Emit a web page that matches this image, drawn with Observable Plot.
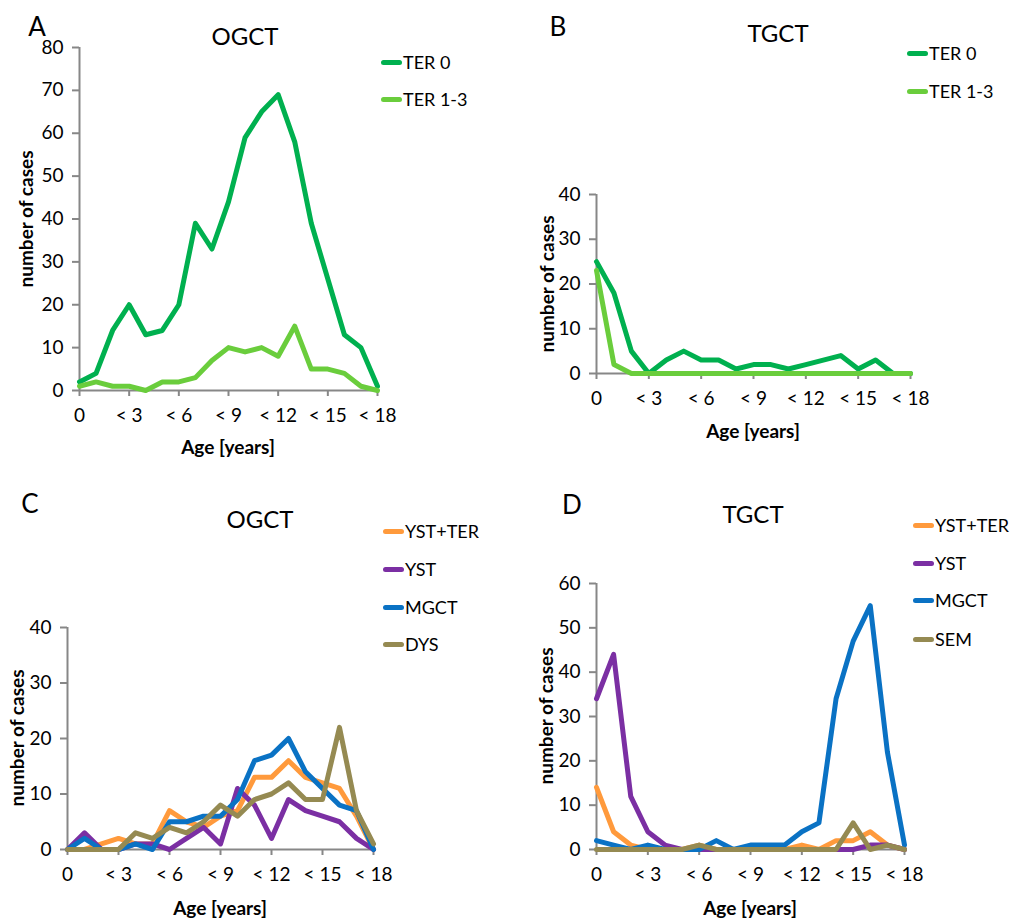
<!DOCTYPE html>
<html>
<head>
<meta charset="utf-8">
<script src="https://cdn.jsdelivr.net/npm/d3@7"></script>
<script src="https://cdn.jsdelivr.net/npm/@observablehq/plot@0.6"></script>
<style>
  html, body { margin: 0; padding: 0; background: #fff; }
  #page { position: relative; width: 1010px; height: 918px; overflow: hidden; font-family: Lato, "Open Sans", sans-serif; color: #000; }
  .abs { position: absolute; white-space: nowrap; line-height: 1; }
  .c { transform: translate(-50%, -50%); }
  .letter { font-size: 26px; }
  .title { font-size: 24px; }
  .axlab { font-size: 19px; font-weight: bold; }
  .ylab { font-size: 19px; font-weight: bold; transform: translate(-50%, -50%) rotate(-90deg); }
  .leg { font-size: 18px; transform: translateY(-50%); display: flex; align-items: center; }
  .sw { display: inline-block; width: 21px; height: 5px; border-radius: 2.5px; margin-right: 1px; }
  svg { overflow: visible; }
</style>
</head>
<body>
<div id="page"></div>
<script>
// ---- data ----
const ages = [0, 1, 2, 3, 4, 5, 6, 7, 8, 9, 10, 11, 12, 13, 14, 15, 16, 17, 18];
const xTickValues = [0, 3, 6, 9, 12, 15, 18];
const xTickLabels = ["0", "< 3", "< 6", "< 9", "< 12", "< 15", "< 18"];

// A: OGCT teratoma
const ogctTer0  = [2, 4, 14, 20, 13, 14, 20, 39, 33, 44, 59, 65, 69, 58, 39, 26, 13, 10, 1];
const ogctTer13 = [1, 2, 1, 1, 0, 2, 2, 3, 7, 10, 9, 10, 8, 15, 5, 5, 4, 1, 0];
// B: TGCT teratoma
const tgctTer0  = [25, 18, 5, 0, 3, 5, 3, 3, 1, 2, 2, 1, 2, 3, 4, 1, 3, 0, 0];
const tgctTer13 = [23, 2, 0, 0, 0, 0, 0, 0, 0, 0, 0, 0, 0, 0, 0, 0, 0, 0, 0];
// C: OGCT malignant
const ogctYstTer = [0, 0, 1, 2, 1, 1, 7, 5, 4, 6, 7, 13, 13, 16, 13, 12, 11, 6, 0];
const ogctYst    = [0, 3, 0, 0, 1, 1, 0, 2, 4, 1, 11, 8, 2, 9, 7, 6, 5, 2, 0];
const ogctMgct   = [0, 2, 0, 0, 1, 0, 5, 5, 6, 6, 9, 16, 17, 20, 14, 11, 8, 7, 0];
const ogctDys    = [0, 0, 0, 0, 3, 2, 4, 3, 5, 8, 6, 9, 10, 12, 9, 9, 22, 7, 1];
// D: TGCT malignant
const tgctYstTer = [14, 4, 1, 0, 0, 0, 1, 0, 0, 0, 0, 0, 1, 0, 2, 2, 4, 1, 0];
const tgctYst    = [34, 44, 12, 4, 1, 0, 0, 0, 0, 0, 0, 0, 0, 0, 0, 0, 1, 1, 0];
const tgctMgct   = [2, 1, 0, 1, 0, 0, 0, 2, 0, 1, 1, 1, 4, 6, 34, 47, 55, 22, 1];
const tgctSem    = [0, 0, 0, 0, 0, 0, 1, 0, 0, 0, 0, 0, 0, 0, 0, 6, 0, 1, 0];

const terNames = ["TER 0", "TER 1-3"];
const terColors = ["#00b04f", "#6acd3c"];
const ogctNames = ["YST+TER", "YST", "MGCT", "DYS"];
const tgctNames = ["YST+TER", "YST", "MGCT", "SEM"];
const malColors = ["#ff9a3c", "#7b2fa3", "#0a72c4", "#958a52"];

const yTicksA = [0, 10, 20, 30, 40, 50, 60, 70, 80];
const yTicksB = [0, 10, 20, 30, 40];
const yTicksC = [0, 10, 20, 30, 40];
const yTicksD = [0, 10, 20, 30, 40, 50, 60];

// ---- drawing ----
const page = document.getElementById("page");
const axisGrey = "#878787";

function addText(cls, text, x, y) {
  const d = document.createElement("div");
  d.className = "abs " + cls;
  d.style.left = x + "px";
  d.style.top = y + "px";
  d.textContent = text;
  page.appendChild(d);
  return d;
}

function panel(cfg) {
  const {L, T, W, H, x0, x1, yTop, yBottom, yTicks, series, names, colors} = cfg;
  const rows = [];
  series.forEach((vals, s) => vals.forEach((v, i) => rows.push({age: ages[i], value: v, series: names[s]})));
  const marks = [
    Plot.axisX({ticks: xTickValues, tickFormat: d => xTickLabels[xTickValues.indexOf(d)], tickSize: 6, tickPadding: 12,
      stroke: axisGrey, strokeWidth: 2, fill: "#000", label: null, fontSize: 19}),
    Plot.axisY({ticks: yTicks, tickSize: 7, tickPadding: 9,
      stroke: axisGrey, strokeWidth: 2, fill: "#000", label: null, fontSize: 19}),
    Plot.ruleX([0], {stroke: axisGrey, strokeWidth: 2}),
    Plot.ruleY([0], {stroke: axisGrey, strokeWidth: 2})
  ];
  names.forEach((n, s) => {
    marks.push(Plot.line(rows.filter(r => r.series === n), {
      x: "age", y: "value", stroke: colors[s], strokeWidth: 5,
      strokeLinejoin: "round", strokeLinecap: "round"
    }));
  });
  const svg = Plot.plot({
    width: W, height: H,
    marginLeft: x0 - L, marginRight: L + W - x1,
    marginTop: yTop - T, marginBottom: T + H - yBottom,
    x: {domain: [0, 18]},
    y: {domain: [0, yTicks[yTicks.length - 1]]},
    style: {fontFamily: "Lato, 'Open Sans', sans-serif", fontSize: "19px", color: "#000", background: "transparent", overflow: "visible"},
    marks
  });
  svg.style.position = "absolute";
  svg.style.left = L + "px";
  svg.style.top = T + "px";
  page.appendChild(svg);

  addText("letter c", cfg.letter, cfg.letterPos[0], cfg.letterPos[1]);
  addText("title c", cfg.title, cfg.titlePos[0], cfg.titlePos[1]);
  addText("axlab c", "Age [years]", (x0 + x1) / 2, cfg.xlabY);
  addText("ylab", "number of cases", cfg.ylabX, (yTop + yBottom) / 2);
  names.forEach((n, s) => {
    const d = addText("leg", "", cfg.legX, cfg.legY[s]);
    const sw = document.createElement("span");
    sw.className = "sw";
    sw.style.background = colors[s];
    d.appendChild(sw);
    d.appendChild(document.createTextNode(n));
  });
}

panel({L: 0, T: 0, W: 505, H: 470, x0: 79, x1: 377, yTop: 47, yBottom: 390, yTicks: yTicksA,
  series: [ogctTer0, ogctTer13], names: terNames, colors: terColors,
  letter: "A", letterPos: [37, 26], title: "OGCT", titlePos: [245, 36], xlabY: 446, ylabX: 25,
  legX: 381, legY: [62, 99]});

panel({L: 505, T: 0, W: 505, H: 470, x0: 596, x1: 910, yTop: 194, yBottom: 373, yTicks: yTicksB,
  series: [tgctTer0, tgctTer13], names: terNames, colors: terColors,
  letter: "B", letterPos: [558, 26], title: "TGCT", titlePos: [778, 33], xlabY: 430, ylabX: 546,
  legX: 907, legY: [53, 91]});

panel({L: 0, T: 470, W: 505, H: 448, x0: 67, x1: 373, yTop: 627, yBottom: 849, yTicks: yTicksC,
  series: [ogctYstTer, ogctYst, ogctMgct, ogctDys], names: ogctNames, colors: malColors,
  letter: "C", letterPos: [30, 503], title: "OGCT", titlePos: [260, 519], xlabY: 907, ylabX: 16,
  legX: 383, legY: [531, 569, 607, 644]});

panel({L: 505, T: 470, W: 505, H: 448, x0: 596, x1: 904, yTop: 583, yBottom: 849, yTicks: yTicksD,
  series: [tgctYstTer, tgctYst, tgctMgct, tgctSem], names: tgctNames, colors: malColors,
  letter: "D", letterPos: [572, 504], title: "TGCT", titlePos: [753, 514], xlabY: 907, ylabX: 545,
  legX: 913, legY: [525, 563, 600, 639]});
</script>
</body>
</html>
